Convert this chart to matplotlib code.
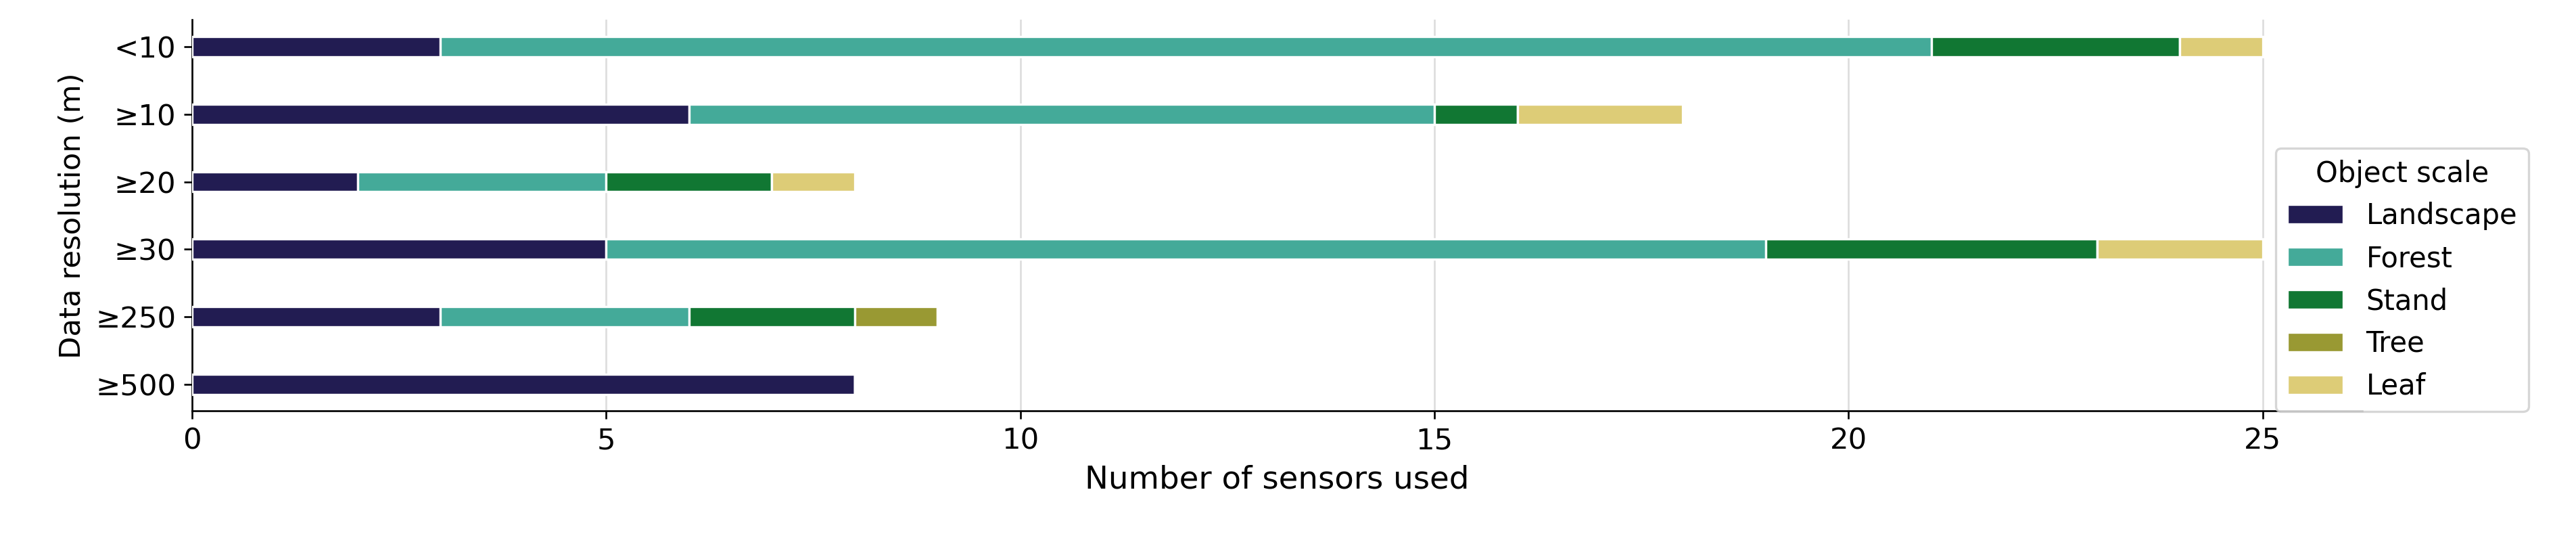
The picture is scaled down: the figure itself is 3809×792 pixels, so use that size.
import numpy as np
import matplotlib
matplotlib.use('Agg')
import matplotlib.pyplot as plt

# 해상도 구간별 센서 수 (객체 스케일별)
resolutions = ['<10', '≥10', '≥20', '≥30', '≥250', '≥500']
scales = ['Landscape', 'Forest', 'Stand', 'Tree', 'Leaf']
landscape = [3, 6, 2, 5, 3, 8]
forest = [18, 9, 3, 14, 3, 0]
stand = [3, 1, 2, 4, 2, 0]
tree = [0, 0, 0, 0, 1, 0]
leaf = [1, 2, 1, 2, 0, 0]

colors = ['#221c52', '#44aa99', '#117733', '#999933', '#ddcc77']

fig = plt.figure(figsize=(3809 / 240, 792 / 240), dpi=240)
ax = fig.add_axes([0.0745, 0.233, 0.8425, 0.73])

y = np.arange(len(resolutions))
left = np.zeros(len(resolutions))
for name, vals, c in zip(scales, [landscape, forest, stand, tree, leaf], colors):
    vals = np.array(vals, dtype=float)
    ax.barh(y, vals, left=left, height=0.3, color=c, edgecolor='white',
            linewidth=1, label=name, zorder=3)
    left += vals

ax.set_yticks(y)
ax.set_yticklabels(resolutions, fontsize=13)
ax.invert_yaxis()
ax.set_ylim(5.4, -0.4)
ax.set_xlim(0, 26.2)
ax.set_xticks([0, 5, 10, 15, 20, 25])
ax.tick_params(axis='x', labelsize=13)
ax.grid(axis='x', color='#dddddd', linewidth=0.8, zorder=0)
ax.spines['top'].set_visible(False)
ax.spines['right'].set_visible(False)
ax.set_xlabel('Number of sensors used', fontsize=14)
ax.set_ylabel('Data resolution (m)', fontsize=13)

fig.legend(title='Object scale', loc='upper left', bbox_to_anchor=(0.878, 0.75),
           fontsize=12.5, title_fontsize=12.5, frameon=True)

fig.savefig('out.png', dpi=240)
